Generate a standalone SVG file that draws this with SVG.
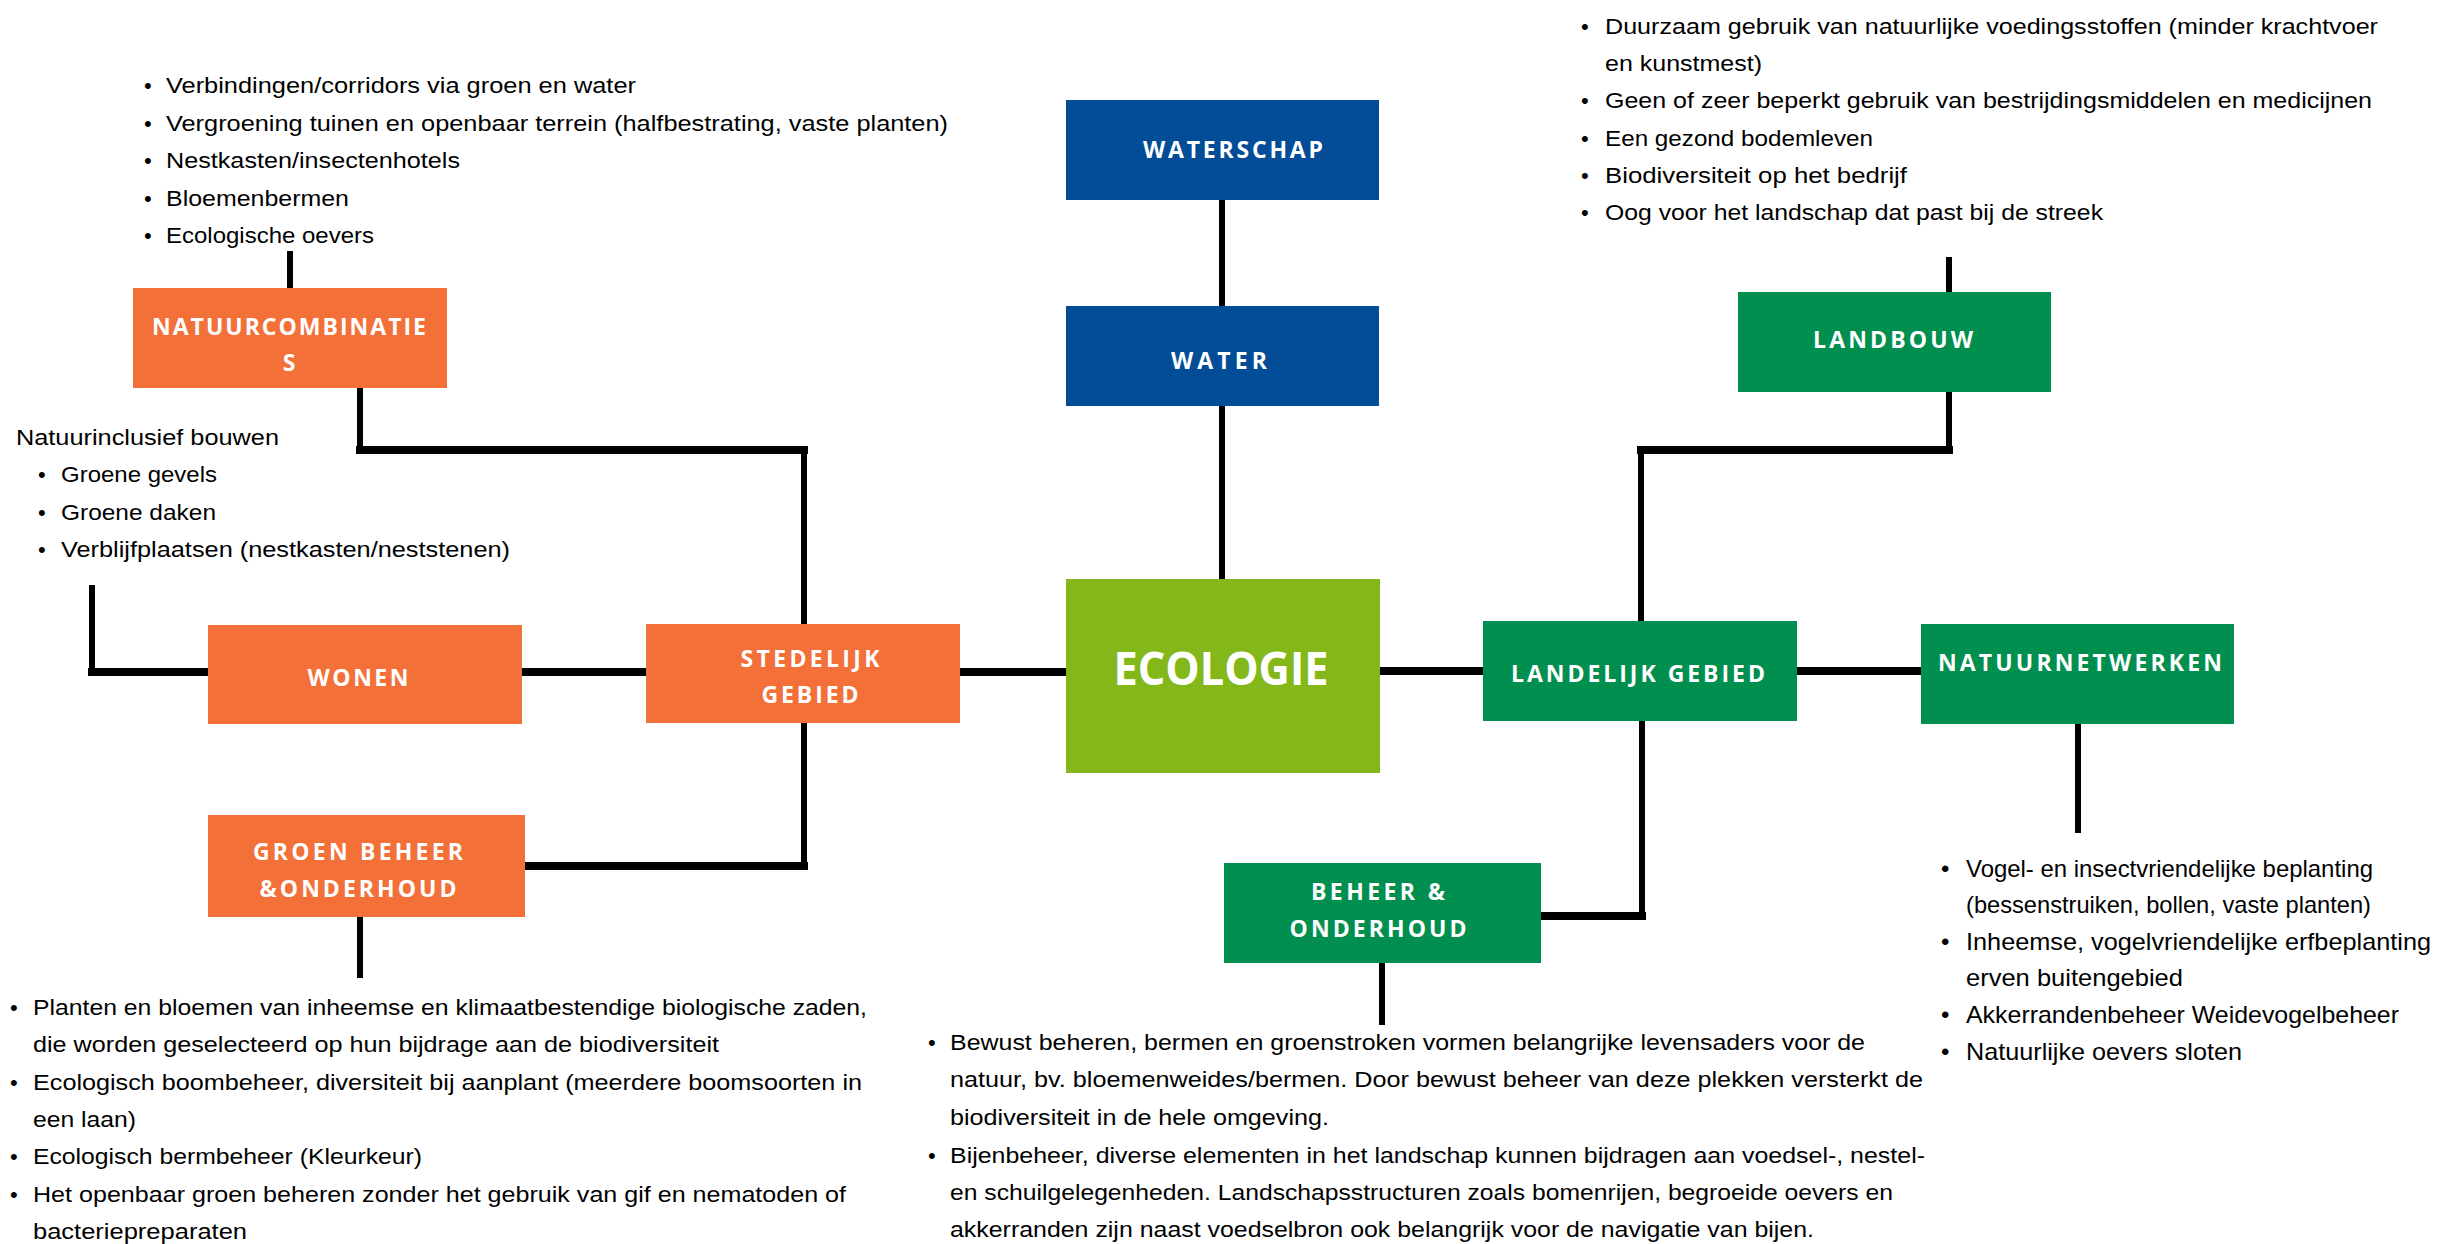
<svg xmlns="http://www.w3.org/2000/svg" width="2448" height="1244" viewBox="0 0 2448 1244">
<style>
.bg{fill:#ffffff}
.or{fill:#F37039}
.bl{fill:#034D98}
.lm{fill:#84B81A}
.gr{fill:#008F4E}
.lbl{font-family:"Open Sans","Liberation Sans",sans-serif;font-weight:700;font-size:23px;fill:#ffffff;text-anchor:middle}
.big{font-family:"Open Sans","Liberation Sans",sans-serif;font-weight:700;font-size:47px;fill:#ffffff;text-anchor:middle}
.tx{font-family:"Liberation Sans",Arial,sans-serif;font-size:22px;fill:#000000}
.tx2{font-family:"Liberation Sans",Arial,sans-serif;font-size:24px;fill:#000000}
.h{stroke:#000;stroke-width:8;stroke-linecap:square;fill:none}
.v{stroke:#000;stroke-width:6;stroke-linecap:square;fill:none}
</style>
<rect class="bg" x="0" y="0" width="2448" height="1244"/>

<g id="connectors">
<line class="v" x1="290" y1="254" x2="290" y2="286"/>
<line class="v" x1="360" y1="390" x2="360" y2="450"/>
<line class="h" x1="360" y1="450" x2="804" y2="450"/>
<line class="v" x1="804" y1="450" x2="804" y2="621"/>
<line class="v" x1="92" y1="588" x2="92" y2="672"/>
<line class="h" x1="92" y1="672" x2="208" y2="672"/>
<line class="h" x1="522" y1="672" x2="646" y2="672"/>
<line class="h" x1="960" y1="672" x2="1066" y2="672"/>
<line class="v" x1="804" y1="725" x2="804" y2="866"/>
<line class="h" x1="525" y1="866" x2="804" y2="866"/>
<line class="v" x1="360" y1="918" x2="360" y2="975"/>
<line class="v" x1="1222" y1="202" x2="1222" y2="304"/>
<line class="v" x1="1222" y1="408" x2="1222" y2="576"/>
<line class="h" x1="1380" y1="671" x2="1483" y2="671"/>
<line class="h" x1="1797" y1="671" x2="1921" y2="671"/>
<line class="v" x1="1949" y1="260" x2="1949" y2="290"/>
<line class="v" x1="1949" y1="394" x2="1949" y2="450"/>
<line class="h" x1="1641" y1="450" x2="1949" y2="450"/>
<line class="v" x1="1641" y1="450" x2="1641" y2="618"/>
<line class="v" x1="1642" y1="723" x2="1642" y2="916"/>
<line class="h" x1="1541" y1="916" x2="1642" y2="916"/>
<line class="v" x1="1382" y1="965" x2="1382" y2="1022"/>
<line class="v" x1="2078" y1="726" x2="2078" y2="830"/>
</g>

<g id="natuurcombinaties">
<rect class="or" x="133" y="288" width="314" height="100"/>
<text class="lbl" x="289" y="335" textLength="274" lengthAdjust="spacing">NATUURCOMBINATIE</text>
<text class="lbl" x="289" y="371">S</text>
</g>
<g id="wonen">
<rect class="or" x="208" y="625" width="314" height="99"/>
<text class="lbl" x="358" y="686" textLength="101" lengthAdjust="spacing">WONEN</text>
</g>
<g id="stedelijk-gebied">
<rect class="or" x="646" y="624" width="314" height="99"/>
<text class="lbl" x="810" y="667" textLength="139" lengthAdjust="spacing">STEDELIJK</text>
<text class="lbl" x="810" y="703" textLength="97" lengthAdjust="spacing">GEBIED</text>
</g>
<g id="groen-beheer">
<rect class="or" x="208" y="815" width="317" height="102"/>
<text class="lbl" x="358" y="860" textLength="210" lengthAdjust="spacing">GROEN BEHEER</text>
<text class="lbl" x="358" y="897" textLength="197" lengthAdjust="spacing">&amp;ONDERHOUD</text>
</g>
<g id="waterschap">
<rect class="bl" x="1066" y="100" width="313" height="100"/>
<text class="lbl" x="1233" y="158" textLength="180" lengthAdjust="spacing">WATERSCHAP</text>
</g>
<g id="water">
<rect class="bl" x="1066" y="306" width="313" height="100"/>
<text class="lbl" x="1219" y="369" textLength="96" lengthAdjust="spacing">WATER</text>
</g>
<g id="ecologie">
<rect class="lm" x="1066" y="579" width="314" height="194"/>
<text class="big" x="1221" y="685" textLength="215" lengthAdjust="spacingAndGlyphs">ECOLOGIE</text>
</g>
<g id="landbouw">
<rect class="gr" x="1738" y="292" width="313" height="100"/>
<text class="lbl" x="1893" y="348" textLength="160" lengthAdjust="spacing">LANDBOUW</text>
</g>
<g id="landelijk-gebied">
<rect class="gr" x="1483" y="621" width="314" height="100"/>
<text class="lbl" x="1638" y="682" textLength="254" lengthAdjust="spacing">LANDELIJK GEBIED</text>
</g>
<g id="natuurnetwerken">
<rect class="gr" x="1921" y="624" width="313" height="100"/>
<text class="lbl" x="2080" y="671" textLength="284" lengthAdjust="spacing">NATUURNETWERKEN</text>
</g>
<g id="beheer-onderhoud">
<rect class="gr" x="1224" y="863" width="317" height="100"/>
<text class="lbl" x="1378" y="900" textLength="134" lengthAdjust="spacing">BEHEER &amp;</text>
<text class="lbl" x="1378" y="937" textLength="177" lengthAdjust="spacing">ONDERHOUD</text>
</g>

<g id="text-natuurcombinaties" class="tx">
<text x="144" y="93">•</text><text x="166" y="93" textLength="470" lengthAdjust="spacingAndGlyphs">Verbindingen/corridors via groen en water</text>
<text x="144" y="131">•</text><text x="166" y="131" textLength="782" lengthAdjust="spacingAndGlyphs">Vergroening tuinen en openbaar terrein (halfbestrating, vaste planten)</text>
<text x="144" y="168">•</text><text x="166" y="168" textLength="294" lengthAdjust="spacingAndGlyphs">Nestkasten/insectenhotels</text>
<text x="144" y="206">•</text><text x="166" y="206" textLength="183" lengthAdjust="spacingAndGlyphs">Bloemenbermen</text>
<text x="144" y="243">•</text><text x="166" y="243" textLength="208" lengthAdjust="spacingAndGlyphs">Ecologische oevers</text>
</g>

<g id="text-wonen" class="tx">
<text x="16" y="445" textLength="263" lengthAdjust="spacingAndGlyphs">Natuurinclusief bouwen</text>
<text x="38" y="482">•</text><text x="61" y="482" textLength="156" lengthAdjust="spacingAndGlyphs">Groene gevels</text>
<text x="38" y="520">•</text><text x="61" y="520" textLength="155" lengthAdjust="spacingAndGlyphs">Groene daken</text>
<text x="38" y="557">•</text><text x="61" y="557" textLength="449" lengthAdjust="spacingAndGlyphs">Verblijfplaatsen (nestkasten/neststenen)</text>
</g>

<g id="text-groen-beheer" class="tx">
<text x="10" y="1015">•</text><text x="33" y="1015" textLength="834" lengthAdjust="spacingAndGlyphs">Planten en bloemen van inheemse en klimaatbestendige biologische zaden,</text>
<text x="33" y="1052" textLength="686" lengthAdjust="spacingAndGlyphs">die worden geselecteerd op hun bijdrage aan de biodiversiteit</text>
<text x="10" y="1090">•</text><text x="33" y="1090" textLength="829" lengthAdjust="spacingAndGlyphs">Ecologisch boombeheer, diversiteit bij aanplant (meerdere boomsoorten in</text>
<text x="33" y="1127" textLength="103" lengthAdjust="spacingAndGlyphs">een laan)</text>
<text x="10" y="1164">•</text><text x="33" y="1164" textLength="389" lengthAdjust="spacingAndGlyphs">Ecologisch bermbeheer (Kleurkeur)</text>
<text x="10" y="1202">•</text><text x="33" y="1202" textLength="813" lengthAdjust="spacingAndGlyphs">Het openbaar groen beheren zonder het gebruik van gif en nematoden of</text>
<text x="33" y="1239" textLength="214" lengthAdjust="spacingAndGlyphs">bacteriepreparaten</text>
</g>

<g id="text-landbouw" class="tx">
<text x="1581" y="34">•</text><text x="1605" y="34" textLength="773" lengthAdjust="spacingAndGlyphs">Duurzaam gebruik van natuurlijke voedingsstoffen (minder krachtvoer</text>
<text x="1605" y="71" textLength="157" lengthAdjust="spacingAndGlyphs">en kunstmest)</text>
<text x="1581" y="108">•</text><text x="1605" y="108" textLength="767" lengthAdjust="spacingAndGlyphs">Geen of zeer beperkt gebruik van bestrijdingsmiddelen en medicijnen</text>
<text x="1581" y="146">•</text><text x="1605" y="146" textLength="268" lengthAdjust="spacingAndGlyphs">Een gezond bodemleven</text>
<text x="1581" y="183">•</text><text x="1605" y="183" textLength="302" lengthAdjust="spacingAndGlyphs">Biodiversiteit op het bedrijf</text>
<text x="1581" y="220">•</text><text x="1605" y="220" textLength="498" lengthAdjust="spacingAndGlyphs">Oog voor het landschap dat past bij de streek</text>
</g>

<g id="text-beheer" class="tx">
<text x="928" y="1050">•</text><text x="950" y="1050" textLength="915" lengthAdjust="spacingAndGlyphs">Bewust beheren, bermen en groenstroken vormen belangrijke levensaders voor de</text>
<text x="950" y="1087" textLength="973" lengthAdjust="spacingAndGlyphs">natuur, bv. bloemenweides/bermen. Door bewust beheer van deze plekken versterkt de</text>
<text x="950" y="1125" textLength="379" lengthAdjust="spacingAndGlyphs">biodiversiteit in de hele omgeving.</text>
<text x="928" y="1163">•</text><text x="950" y="1163" textLength="975" lengthAdjust="spacingAndGlyphs">Bijenbeheer, diverse elementen in het landschap kunnen bijdragen aan voedsel-, nestel-</text>
<text x="950" y="1200" textLength="943" lengthAdjust="spacingAndGlyphs">en schuilgelegenheden. Landschapsstructuren zoals bomenrijen, begroeide oevers en</text>
<text x="950" y="1237" textLength="864" lengthAdjust="spacingAndGlyphs">akkerranden zijn naast voedselbron ook belangrijk voor de navigatie van bijen.</text>
</g>

<g id="text-natuurnetwerken" class="tx2">
<text x="1941" y="877">•</text><text x="1966" y="877" textLength="407" lengthAdjust="spacingAndGlyphs">Vogel- en insectvriendelijke beplanting</text>
<text x="1966" y="913" textLength="405" lengthAdjust="spacingAndGlyphs">(bessenstruiken, bollen, vaste planten)</text>
<text x="1941" y="950">•</text><text x="1966" y="950" textLength="465" lengthAdjust="spacingAndGlyphs">Inheemse, vogelvriendelijke erfbeplanting</text>
<text x="1966" y="986" textLength="217" lengthAdjust="spacingAndGlyphs">erven buitengebied</text>
<text x="1941" y="1023">•</text><text x="1966" y="1023" textLength="433" lengthAdjust="spacingAndGlyphs">Akkerrandenbeheer Weidevogelbeheer</text>
<text x="1941" y="1060">•</text><text x="1966" y="1060" textLength="276" lengthAdjust="spacingAndGlyphs">Natuurlijke oevers sloten</text>
</g>
</svg>
